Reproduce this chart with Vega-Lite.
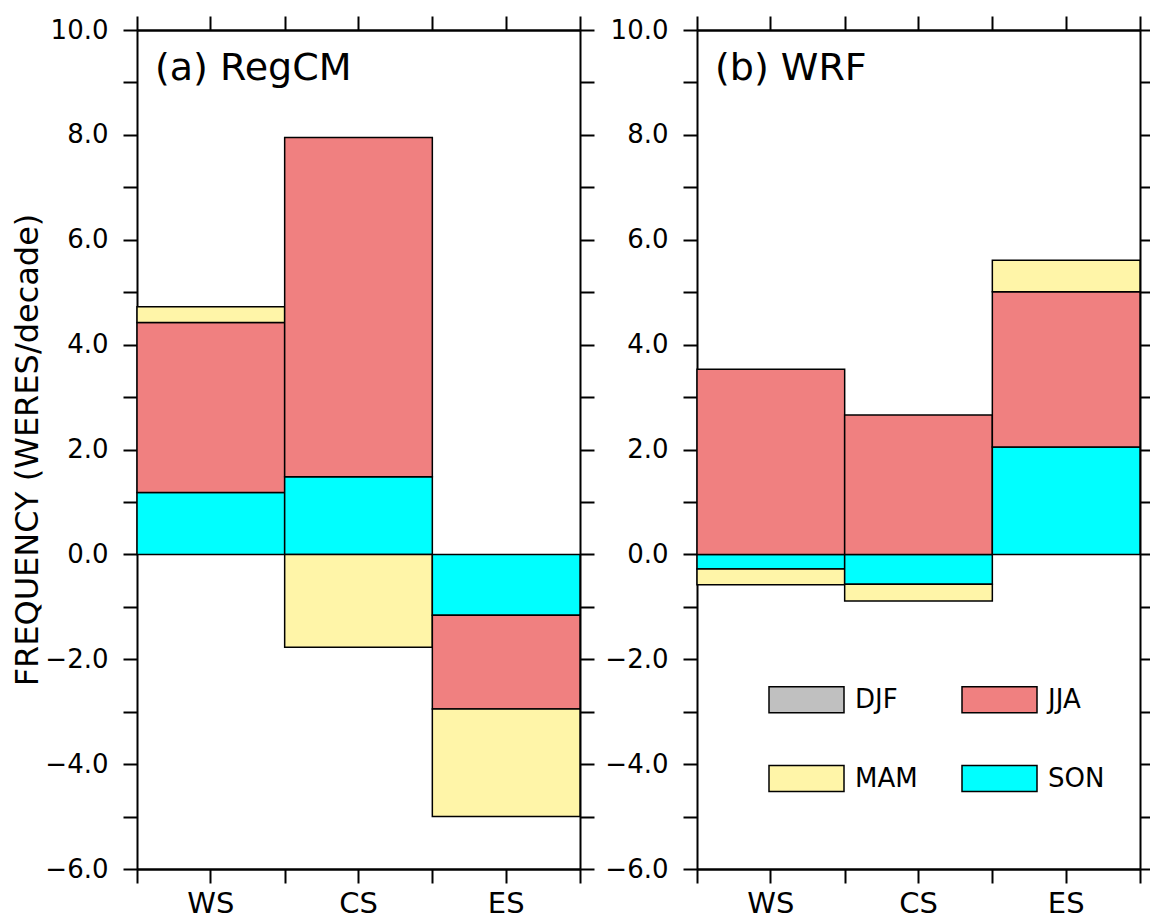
{
  "$schema": "https://vega.github.io/schema/vega-lite/v6.json",
  "padding": {"left": 11, "top": 15, "right": 0, "bottom": 0},
  "background": "white",
  "config": {
    "font": "DejaVu Sans",
    "view": {"stroke": null},
    "axis": {"domainColor": "black", "domainWidth": 2, "tickColor": "black", "tickWidth": 2, "tickSize": 14, "labelColor": "black", "titleColor": "black", "grid": false, "labelFont": "DejaVu Sans", "titleFont": "DejaVu Sans"},
    "title": {"font": "DejaVu Sans", "fontWeight": "normal", "color": "black"},
    "legend": {"labelFont": "DejaVu Sans"}
  },
  "datasets": {
    "d": [
      {"panel": "a", "region": "WS", "season": "SON", "value": 1.18},
      {"panel": "a", "region": "WS", "season": "JJA", "value": 3.24},
      {"panel": "a", "region": "WS", "season": "MAM", "value": 0.30},
      {"panel": "a", "region": "CS", "season": "SON", "value": 1.48},
      {"panel": "a", "region": "CS", "season": "JJA", "value": 6.47},
      {"panel": "a", "region": "CS", "season": "MAM", "value": -1.77},
      {"panel": "a", "region": "ES", "season": "SON", "value": -1.16},
      {"panel": "a", "region": "ES", "season": "JJA", "value": -1.79},
      {"panel": "a", "region": "ES", "season": "MAM", "value": -2.05},
      {"panel": "b", "region": "WS", "season": "SON", "value": -0.28},
      {"panel": "b", "region": "WS", "season": "JJA", "value": 3.53},
      {"panel": "b", "region": "WS", "season": "MAM", "value": -0.30},
      {"panel": "b", "region": "CS", "season": "SON", "value": -0.57},
      {"panel": "b", "region": "CS", "season": "JJA", "value": 2.66},
      {"panel": "b", "region": "CS", "season": "MAM", "value": -0.32},
      {"panel": "b", "region": "ES", "season": "SON", "value": 2.05},
      {"panel": "b", "region": "ES", "season": "JJA", "value": 2.96},
      {"panel": "b", "region": "ES", "season": "MAM", "value": 0.60}
    ]
  },
  "data": {"name": "d"},
  "transform": [{"calculate": "indexof(['SON','JJA','MAM','DJF'], datum.season)", "as": "k"}],
  "bounds": "flush",
  "spacing": 117,
  "resolve": {"legend": {"color": "independent"}},
  "hconcat": [
    {
      "width": 443, "height": 839,
      "title": {"text": "(a) RegCM", "anchor": "start", "frame": "group", "fontSize": 38, "dx": 18, "dy": 73, "offset": 0},
      "transform": [{"filter": "datum.panel == 'a'"}],
      "encoding": {
        "color": {"field": "season", "type": "nominal", "scale": {"domain": ["DJF", "JJA", "MAM", "SON"], "range": ["#c0c0c0", "#f08080", "#fff5a8", "#00ffff"]}, "legend": null},
        "order": {"field": "k", "type": "quantitative"}
      },
      "layer": [
        {
          "mark": {"type": "bar", "stroke": "black", "strokeWidth": 1.5},
          "encoding": {
            "x": {"field": "region", "type": "nominal", "sort": ["WS", "CS", "ES"], "scale": {"paddingInner": 0, "paddingOuter": 0}, "axis": {"orient": "bottom", "tickBand": "center", "labelAngle": 0, "labelFontSize": 29, "labelPadding": 6, "title": null}},
            "y": {"field": "value", "type": "quantitative", "scale": {"domain": [-6, 10], "nice": false}, "axis": {"orient": "left", "values": [-6,-5,-4,-3,-2,-1,0,1,2,3,4,5,6,7,8,9,10], "labelExpr": "datum.value % 2 == 0 ? format(datum.value, '.1f') : ''", "labelFontSize": 26, "labelPadding": 15, "title": "FREQUENCY (WERES/decade)", "titleFontSize": 32, "titleFontWeight": "normal", "titlePadding": 0}}
          }
        },
        {
          "mark": {"type": "bar", "opacity": 0},
          "encoding": {
            "x": {"field": "region", "type": "nominal", "sort": ["WS", "CS", "ES"], "scale": {"paddingInner": 0, "paddingOuter": 0}, "axis": {"orient": "bottom", "tickBand": "extent", "labels": false, "title": null}},
            "y": {"field": "value", "type": "quantitative", "scale": {"domain": [-6, 10], "nice": false}, "axis": {"orient": "right", "values": [-6,-5,-4,-3,-2,-1,0,1,2,3,4,5,6,7,8,9,10], "labels": false, "title": null}}
          }
        },
        {
          "mark": {"type": "bar", "opacity": 0},
          "encoding": {
            "x": {"field": "region", "type": "nominal", "sort": ["WS", "CS", "ES"], "scale": {"paddingInner": 0, "paddingOuter": 0}, "axis": {"orient": "top", "tickBand": "center", "labels": false, "title": null}},
            "y": {"field": "value", "type": "quantitative", "scale": {"domain": [-6, 10], "nice": false}, "axis": null}
          }
        },
        {
          "mark": {"type": "bar", "opacity": 0},
          "encoding": {
            "x": {"field": "region", "type": "nominal", "sort": ["WS", "CS", "ES"], "scale": {"paddingInner": 0, "paddingOuter": 0}, "axis": {"orient": "top", "tickBand": "extent", "labels": false, "title": null}},
            "y": {"field": "value", "type": "quantitative", "scale": {"domain": [-6, 10], "nice": false}, "axis": null}
          }
        }
      ],
      "resolve": {"axis": {"x": "independent", "y": "independent"}}
    },
    {
      "width": 443, "height": 839,
      "title": {"text": "(b) WRF", "anchor": "start", "frame": "group", "fontSize": 38, "dx": 18, "dy": 73, "offset": 0},
      "transform": [{"filter": "datum.panel == 'b'"}],
      "encoding": {
        "color": {"field": "season", "type": "nominal", "scale": {"domain": ["DJF", "JJA", "MAM", "SON"], "range": ["#c0c0c0", "#f08080", "#fff5a8", "#00ffff"]}, "legend": {"orient": "none", "direction": "horizontal", "legendX": 71, "legendY": 631, "columns": 2, "title": null, "symbolType": "M-1,-0.347H1V0.347H-1Z", "symbolSize": 5625, "symbolStrokeColor": "black", "symbolStrokeWidth": 1.5, "symbolOpacity": 1, "symbolFillOpacity": 1, "labelFontSize": 26, "labelColor": "black", "labelOffset": 10, "columnPadding": 41, "rowPadding": 24, "padding": 0}},
        "order": {"field": "k", "type": "quantitative"}
      },
      "layer": [
        {
          "mark": {"type": "bar", "stroke": "black", "strokeWidth": 1.5},
          "encoding": {
            "x": {"field": "region", "type": "nominal", "sort": ["WS", "CS", "ES"], "scale": {"paddingInner": 0, "paddingOuter": 0}, "axis": {"orient": "bottom", "tickBand": "center", "labelAngle": 0, "labelFontSize": 29, "labelPadding": 6, "title": null}},
            "y": {"field": "value", "type": "quantitative", "scale": {"domain": [-6, 10], "nice": false}, "axis": {"orient": "left", "values": [-6,-5,-4,-3,-2,-1,0,1,2,3,4,5,6,7,8,9,10], "labelExpr": "datum.value % 2 == 0 ? format(datum.value, '.1f') : ''", "labelFontSize": 26, "labelPadding": 15, "title": null}}
          }
        },
        {
          "mark": {"type": "bar", "opacity": 0},
          "encoding": {
            "x": {"field": "region", "type": "nominal", "sort": ["WS", "CS", "ES"], "scale": {"paddingInner": 0, "paddingOuter": 0}, "axis": {"orient": "bottom", "tickBand": "extent", "labels": false, "title": null}},
            "y": {"field": "value", "type": "quantitative", "scale": {"domain": [-6, 10], "nice": false}, "axis": {"orient": "right", "values": [-6,-5,-4,-3,-2,-1,0,1,2,3,4,5,6,7,8,9,10], "labels": false, "title": null}}
          }
        },
        {
          "mark": {"type": "bar", "opacity": 0},
          "encoding": {
            "x": {"field": "region", "type": "nominal", "sort": ["WS", "CS", "ES"], "scale": {"paddingInner": 0, "paddingOuter": 0}, "axis": {"orient": "top", "tickBand": "center", "labels": false, "title": null}},
            "y": {"field": "value", "type": "quantitative", "scale": {"domain": [-6, 10], "nice": false}, "axis": null}
          }
        },
        {
          "mark": {"type": "bar", "opacity": 0},
          "encoding": {
            "x": {"field": "region", "type": "nominal", "sort": ["WS", "CS", "ES"], "scale": {"paddingInner": 0, "paddingOuter": 0}, "axis": {"orient": "top", "tickBand": "extent", "labels": false, "title": null}},
            "y": {"field": "value", "type": "quantitative", "scale": {"domain": [-6, 10], "nice": false}, "axis": null}
          }
        }
      ],
      "resolve": {"axis": {"x": "independent", "y": "independent"}}
    }
  ]
}
